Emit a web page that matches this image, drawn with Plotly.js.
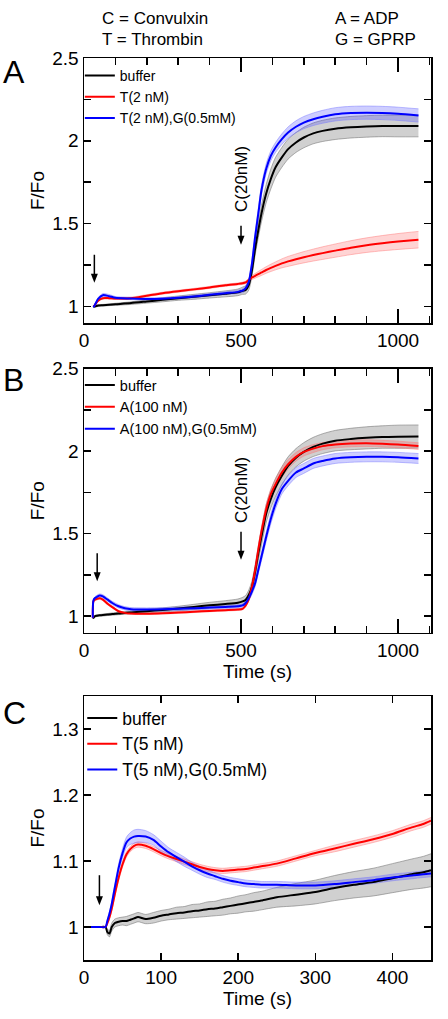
<!DOCTYPE html>
<html><head><meta charset="utf-8">
<script src="https://cdn.plot.ly/plotly-3.0.1.min.js"></script>
<style>html,body{margin:0;padding:0;background:#fff}#chart{position:absolute;left:0;top:0;width:448px;height:1019px}#arrows{position:absolute;left:0;top:0;width:448px;height:1019px;pointer-events:none}</style>
</head><body><div id="chart"></div><svg id="arrows" width="448" height="1019" xmlns="http://www.w3.org/2000/svg"></svg>
<script>
// ---------- Panel A (time in s) ----------
const tA = [30, 35, 45, 60, 80, 100, 150, 200, 250, 300, 350, 400, 450, 490, 505, 515, 525, 535, 545, 555, 565, 580, 595, 610, 630, 650, 675, 700, 730, 760, 800, 850, 900, 950, 1000, 1065];
const bufferA = [1.00, 1.00, 1.005, 1.007, 1.01, 1.013, 1.02, 1.03, 1.04, 1.05, 1.058, 1.067, 1.076, 1.085, 1.095, 1.10, 1.13, 1.22, 1.35, 1.46, 1.56, 1.68, 1.77, 1.84, 1.90, 1.95, 1.99, 2.02, 2.045, 2.06, 2.073, 2.082, 2.087, 2.09, 2.09, 2.09];
const bufferA_sd = [0.004, 0.004, 0.005, 0.005, 0.005, 0.006, 0.008, 0.01, 0.012, 0.013, 0.015, 0.016, 0.018, 0.02, 0.022, 0.025, 0.03, 0.035, 0.04, 0.045, 0.05, 0.055, 0.06, 0.06, 0.06, 0.06, 0.06, 0.062, 0.063, 0.064, 0.065, 0.065, 0.065, 0.065, 0.066, 0.066];
const thrombinA = [1.00, 1.01, 1.035, 1.05, 1.05, 1.048, 1.05, 1.065, 1.08, 1.092, 1.103, 1.115, 1.128, 1.136, 1.14, 1.145, 1.16, 1.175, 1.185, 1.195, 1.205, 1.22, 1.233, 1.245, 1.26, 1.272, 1.285, 1.297, 1.31, 1.322, 1.337, 1.355, 1.37, 1.382, 1.392, 1.403];
const thrombinA_sd = [0.004, 0.004, 0.005, 0.006, 0.006, 0.006, 0.006, 0.006, 0.006, 0.006, 0.006, 0.006, 0.006, 0.006, 0.007, 0.008, 0.01, 0.012, 0.014, 0.016, 0.018, 0.02, 0.022, 0.024, 0.027, 0.03, 0.032, 0.034, 0.036, 0.038, 0.04, 0.042, 0.044, 0.046, 0.048, 0.05];
const thrGprpA = [0.995, 1.01, 1.045, 1.068, 1.062, 1.052, 1.048, 1.045, 1.047, 1.052, 1.06, 1.07, 1.08, 1.088, 1.095, 1.11, 1.15, 1.26, 1.42, 1.56, 1.70, 1.83, 1.91, 1.96, 2.01, 2.05, 2.085, 2.11, 2.13, 2.145, 2.16, 2.168, 2.17, 2.168, 2.163, 2.153];
const thrGprpA_sd = [0.005, 0.006, 0.008, 0.01, 0.01, 0.008, 0.007, 0.007, 0.007, 0.007, 0.008, 0.008, 0.009, 0.01, 0.012, 0.015, 0.02, 0.025, 0.03, 0.03, 0.03, 0.03, 0.03, 0.03, 0.032, 0.034, 0.036, 0.037, 0.038, 0.039, 0.04, 0.04, 0.04, 0.04, 0.04, 0.04];
const namesA = ['buffer', 'T(2 nM)', 'T(2 nM),G(0.5mM)'];

// ---------- Panel B ----------
const tB = [28, 30, 35, 42, 50, 60, 75, 90, 110, 130, 150, 200, 250, 300, 350, 400, 450, 490, 505, 515, 525, 535, 545, 555, 565, 580, 595, 610, 630, 650, 675, 700, 730, 760, 800, 850, 900, 950, 1000, 1065];
const bufferB = [0.99, 0.99, 1.0, 1.003, 1.005, 1.007, 1.01, 1.013, 1.016, 1.02, 1.023, 1.03, 1.038, 1.046, 1.056, 1.066, 1.074, 1.082, 1.09, 1.10, 1.13, 1.18, 1.27, 1.38, 1.48, 1.62, 1.71, 1.78, 1.85, 1.91, 1.96, 1.995, 2.025, 2.045, 2.063, 2.073, 2.08, 2.085, 2.087, 2.088];
const bufferB_sd = [0.004, 0.004, 0.005, 0.005, 0.005, 0.006, 0.006, 0.007, 0.007, 0.008, 0.008, 0.01, 0.012, 0.014, 0.016, 0.018, 0.02, 0.022, 0.024, 0.026, 0.03, 0.035, 0.04, 0.045, 0.05, 0.055, 0.055, 0.055, 0.055, 0.055, 0.055, 0.056, 0.058, 0.06, 0.062, 0.065, 0.067, 0.068, 0.07, 0.07];
const adpB = [0.99, 1.09, 1.10, 1.105, 1.108, 1.10, 1.075, 1.055, 1.03, 1.02, 1.016, 1.015, 1.018, 1.022, 1.027, 1.032, 1.036, 1.04, 1.045, 1.065, 1.105, 1.18, 1.28, 1.40, 1.51, 1.645, 1.74, 1.80, 1.87, 1.92, 1.965, 1.995, 2.015, 2.03, 2.04, 2.046, 2.048, 2.045, 2.04, 2.03];
const adpB_sd = [0.004, 0.005, 0.006, 0.006, 0.006, 0.006, 0.006, 0.006, 0.005, 0.005, 0.005, 0.005, 0.005, 0.005, 0.005, 0.005, 0.005, 0.005, 0.006, 0.008, 0.01, 0.015, 0.02, 0.025, 0.028, 0.03, 0.03, 0.03, 0.03, 0.028, 0.026, 0.025, 0.024, 0.022, 0.02, 0.02, 0.02, 0.02, 0.02, 0.02];
const adpGprpB = [0.99, 1.095, 1.11, 1.118, 1.125, 1.12, 1.10, 1.08, 1.06, 1.048, 1.042, 1.04, 1.042, 1.045, 1.048, 1.052, 1.056, 1.06, 1.065, 1.08, 1.11, 1.15, 1.20, 1.28, 1.36, 1.48, 1.59, 1.68, 1.77, 1.82, 1.87, 1.895, 1.925, 1.94, 1.955, 1.962, 1.965, 1.965, 1.962, 1.955];
const adpGprpB_sd = [0.004, 0.006, 0.008, 0.01, 0.01, 0.01, 0.01, 0.01, 0.01, 0.01, 0.01, 0.01, 0.01, 0.01, 0.01, 0.01, 0.01, 0.01, 0.01, 0.012, 0.015, 0.018, 0.02, 0.022, 0.025, 0.028, 0.03, 0.03, 0.03, 0.03, 0.03, 0.03, 0.03, 0.03, 0.03, 0.03, 0.03, 0.03, 0.03, 0.03];
const namesB = ['buffer', 'A(100 nM)', 'A(100 nM),G(0.5mM)'];

// ---------- Panel C ----------
const tC = [5, 10, 20, 28, 30, 33, 36, 40, 45, 50, 55, 60, 65, 70, 80, 90, 100, 110, 120, 130, 140, 150, 160, 170, 180, 190, 200, 210, 220, 230, 250, 275, 300, 325, 350, 375, 400, 425, 440, 450];
const bufferC = [1.0, 1.0, 1.0, 1.0, 0.993, 0.99, 1.0, 1.006, 1.008, 1.009, 1.009, 1.011, 1.013, 1.015, 1.012, 1.014, 1.017, 1.019, 1.021, 1.022, 1.024, 1.025, 1.027, 1.028, 1.03, 1.032, 1.034, 1.036, 1.038, 1.04, 1.045, 1.049, 1.053, 1.059, 1.064, 1.068, 1.074, 1.08, 1.083, 1.086];
const bufferC_sd = [0, 0, 0, 0, 0.004, 0.005, 0.006, 0.006, 0.006, 0.006, 0.007, 0.007, 0.007, 0.007, 0.007, 0.008, 0.008, 0.008, 0.009, 0.009, 0.01, 0.01, 0.011, 0.011, 0.012, 0.012, 0.013, 0.013, 0.014, 0.014, 0.015, 0.017, 0.018, 0.019, 0.02, 0.021, 0.022, 0.023, 0.024, 0.025];
const thrombinC = [1.0, 1.0, 1.0, 1.0, 1.005, 1.015, 1.028, 1.05, 1.075, 1.095, 1.11, 1.118, 1.123, 1.125, 1.123, 1.118, 1.112, 1.107, 1.103, 1.099, 1.095, 1.091, 1.088, 1.086, 1.085, 1.086, 1.087, 1.088, 1.09, 1.092, 1.096, 1.104, 1.112, 1.119, 1.126, 1.133, 1.141, 1.151, 1.156, 1.161];
const thrombinC_sd = [0, 0, 0, 0, 0.002, 0.003, 0.004, 0.004, 0.004, 0.004, 0.004, 0.004, 0.004, 0.004, 0.004, 0.004, 0.004, 0.004, 0.004, 0.004, 0.004, 0.004, 0.004, 0.004, 0.004, 0.004, 0.004, 0.004, 0.004, 0.004, 0.004, 0.004, 0.004, 0.005, 0.005, 0.005, 0.005, 0.005, 0.005, 0.005];
const thrGprpC = [1.0, 1.0, 1.0, 1.0, 1.008, 1.02, 1.035, 1.06, 1.09, 1.112, 1.128, 1.134, 1.137, 1.138, 1.137, 1.132, 1.122, 1.113, 1.106, 1.099, 1.092, 1.086, 1.081, 1.077, 1.073, 1.07, 1.068, 1.066, 1.065, 1.064, 1.064, 1.063, 1.063, 1.065, 1.068, 1.071, 1.075, 1.078, 1.08, 1.081];
const thrGprpC_sd = [0, 0, 0, 0, 0.002, 0.003, 0.004, 0.005, 0.006, 0.007, 0.008, 0.009, 0.01, 0.01, 0.009, 0.008, 0.008, 0.007, 0.007, 0.007, 0.006, 0.006, 0.006, 0.005, 0.005, 0.005, 0.005, 0.005, 0.005, 0.005, 0.005, 0.005, 0.005, 0.005, 0.005, 0.005, 0.005, 0.005, 0.005, 0.005];
const namesC = ['buffer', 'T(5 nM)', 'T(5 nM),G(0.5mM)'];

// addition markers: [x axis, y axis, time, value at arrow tip, arrow length px]
const additionArrows = [['xaxis', 'yaxis', 33, 1.143, 28], ['xaxis', 'yaxis', 500, 1.372, 19], ['xaxis2', 'yaxis2', 42, 1.211, 28], ['xaxis2', 'yaxis2', 500, 1.342, 28], ['xaxis3', 'yaxis3', 20, 1.033, 30]];

const FONT = 'Arial, "Liberation Sans", sans-serif';
const COLORS = ['#000000', '#ff0000', '#0000ff'];
const FILLS = ['rgba(150,150,150,0.45)', 'rgba(255,60,60,0.22)', 'rgba(60,60,255,0.25)'];
const EDGES = ['rgba(110,110,110,0.9)', 'rgba(255,120,120,0.8)', 'rgba(120,120,255,0.8)'];
const SMOOTH = 0.7;
const H = 1019;
const XMAX_AB = 1105;

function bandTraces(x, m, sd, xa, ya, k) {
  const lo = m.map((v, i) => v - sd[i]);
  const hi = m.map((v, i) => v + sd[i]);
  const ln = {color: EDGES[k], width: 0.6, shape: 'spline', smoothing: SMOOTH};
  return [
    {type: 'scatter', x: x, y: lo, xaxis: xa, yaxis: ya, mode: 'lines', line: ln, showlegend: false, hoverinfo: 'skip'},
    {type: 'scatter', x: x, y: hi, xaxis: xa, yaxis: ya, mode: 'lines', line: ln, fill: 'tonexty', fillcolor: FILLS[k], showlegend: false, hoverinfo: 'skip'}
  ];
}
function meanTrace(x, m, xa, ya, k, name, lg) {
  return {type: 'scatter', x: x, y: m, xaxis: xa, yaxis: ya, mode: 'lines', name: name, legend: lg, showlegend: true,
          line: {color: COLORS[k], width: 2, shape: 'spline', smoothing: SMOOTH}};
}

function build() {
  const panels = [
    {t: tA, series: [[bufferA, bufferA_sd], [thrombinA, thrombinA_sd], [thrGprpA, thrGprpA_sd]], names: namesA, xa: 'x', ya: 'y', lg: 'legend'},
    {t: tB, series: [[bufferB, bufferB_sd], [adpB, adpB_sd], [adpGprpB, adpGprpB_sd]], names: namesB, xa: 'x2', ya: 'y2', lg: 'legend2'},
    {t: tC, series: [[bufferC, bufferC_sd], [thrombinC, thrombinC_sd], [thrGprpC, thrGprpC_sd]], names: namesC, xa: 'x3', ya: 'y3', lg: 'legend3'}
  ];
  const data = [];
  panels.forEach(p => {
    p.series.forEach((s, k) => { data.push(...bandTraces(p.t, s[0], s[1], p.xa, p.ya, k)); });
    p.series.forEach((s, k) => { data.push(meanTrace(p.t, s[0], p.xa, p.ya, k, p.names[k], p.lg)); });
  });

  const base = {showline: true, linecolor: '#000', linewidth: 1.5, mirror: 'allticks', ticks: 'inside',
    tickcolor: '#000', tickwidth: 1.5, zeroline: false, showgrid: false,
    tickfont: {family: FONT, size: 19, color: '#000'}};
  const titleFont = {family: FONT, size: 19, color: '#000'};
  const dom = (top, bot) => [1 - bot / H, 1 - top / H];
  const minorX = {dtick: 100, ticklen: 7, tickwidth: 1.5, tickcolor: '#000', ticks: 'inside', showgrid: false};
  const minorY = {dtick: 0.25, ticklen: 7, tickwidth: 1.5, tickcolor: '#000', ticks: 'inside', showgrid: false};
  const legendBase = {xanchor: 'left', yanchor: 'top', bgcolor: 'rgba(0,0,0,0)', itemwidth: 30, traceorder: 'normal'};
  const txt = (x, y, s, size) => ({xref: 'paper', yref: 'paper', x: (x - 84) / 347, y: 1 - y / H, xanchor: 'left', yanchor: 'middle', text: s, showarrow: false, font: {family: FONT, size: size, color: '#000'}});
  const rot = (y) => ({xref: 'paper', yref: 'paper', x: 500 / XMAX_AB, y: 1 - y / H, xanchor: 'center', yanchor: 'middle', text: 'C(20nM)', textangle: -90, showarrow: false, font: {family: FONT, size: 17, color: '#000'}});

  const layout = {
    width: 448, height: 1019, margin: {l: 84, r: 17, t: 0, b: 0},
    paper_bgcolor: '#fff', plot_bgcolor: 'rgba(0,0,0,0)',
    font: {family: FONT, color: '#000'}, showlegend: true,
    xaxis: Object.assign({}, base, {anchor: 'y', domain: [0, 1], range: [0, XMAX_AB], tick0: 0, dtick: 500, ticklen: 14, minor: minorX}),
    yaxis: Object.assign({}, base, {anchor: 'x', domain: dom(58, 323), range: [0.9, 2.5], tick0: 0, dtick: 0.5, ticklen: 7, minor: minorY,
      title: {text: 'F/Fo', font: titleFont, standoff: 2}}),
    xaxis2: Object.assign({}, base, {anchor: 'y2', domain: [0, 1], range: [0, XMAX_AB], tick0: 0, dtick: 500, ticklen: 14, minor: minorX,
      title: {text: 'Time (s)', font: titleFont, standoff: 0}}),
    yaxis2: Object.assign({}, base, {anchor: 'x2', domain: dom(368.5, 632.7), range: [0.9, 2.5], tick0: 0, dtick: 0.5, ticklen: 7, minor: minorY,
      title: {text: 'F/Fo', font: titleFont, standoff: 2}}),
    xaxis3: Object.assign({}, base, {anchor: 'y3', domain: [0, 1], range: [0, 450], tick0: 0, dtick: 100, ticklen: 7,
      title: {text: 'Time (s)', font: titleFont, standoff: 2}}),
    yaxis3: Object.assign({}, base, {anchor: 'x3', domain: dom(696, 960), range: [0.95, 1.35], tick0: 0, dtick: 0.1, ticklen: 7,
      title: {text: 'F/Fo', font: titleFont, standoff: 2}}),
    legend: Object.assign({}, legendBase, {x: -0.012, y: 1 - 60 / H, font: {family: FONT, size: 14, color: '#000'}}),
    legend2: Object.assign({}, legendBase, {x: -0.012, y: 1 - 369 / H, font: {family: FONT, size: 14.5, color: '#000'}}),
    legend3: Object.assign({}, legendBase, {x: -0.005, y: 1 - 700 / H, font: {family: FONT, size: 17.5, color: '#000'}}),
    annotations: [
      txt(100, 19, 'C = Convulxin', 17),
      txt(100, 40, 'T = Thrombin', 17),
      txt(333, 19, 'A = ADP', 17),
      txt(333, 40, 'G = GPRP', 17),
      txt(1, 72, 'A', 32),
      txt(1, 380, 'B', 32),
      txt(1, 713, 'C', 32),
      rot(179),
      rot(490)
    ]
  };
  return {data, layout};
}

function drawArrows(gd) {
  const svg = document.getElementById('arrows');
  const NS = 'http://www.w3.org/2000/svg';
  const fl = gd._fullLayout;
  additionArrows.forEach(a => {
    const xa = fl[a[0]], ya = fl[a[1]];
    const px = xa._offset + xa.l2p(a[2]);
    const py = ya._offset + ya.l2p(a[3]);
    const line = document.createElementNS(NS, 'line');
    line.setAttribute('x1', px); line.setAttribute('x2', px);
    line.setAttribute('y1', py - a[4]); line.setAttribute('y2', py - 7);
    line.setAttribute('stroke', '#000'); line.setAttribute('stroke-width', '1.5');
    svg.appendChild(line);
    const head = document.createElementNS(NS, 'polygon');
    head.setAttribute('points', (px - 3.5) + ',' + (py - 9) + ' ' + (px + 3.5) + ',' + (py - 9) + ' ' + px + ',' + py);
    head.setAttribute('fill', '#000');
    svg.appendChild(head);
  });
}

(async () => {
  const div = document.getElementById('chart');
  const b = build();
  await Plotly.newPlot(div, b.data, b.layout, {staticPlot: true, displayModeBar: false});
  if (div.querySelectorAll('path.ticks').length === 0) {
    await Plotly.redraw(div);
  }
  drawArrows(div);
})();
</script>
</body></html>
